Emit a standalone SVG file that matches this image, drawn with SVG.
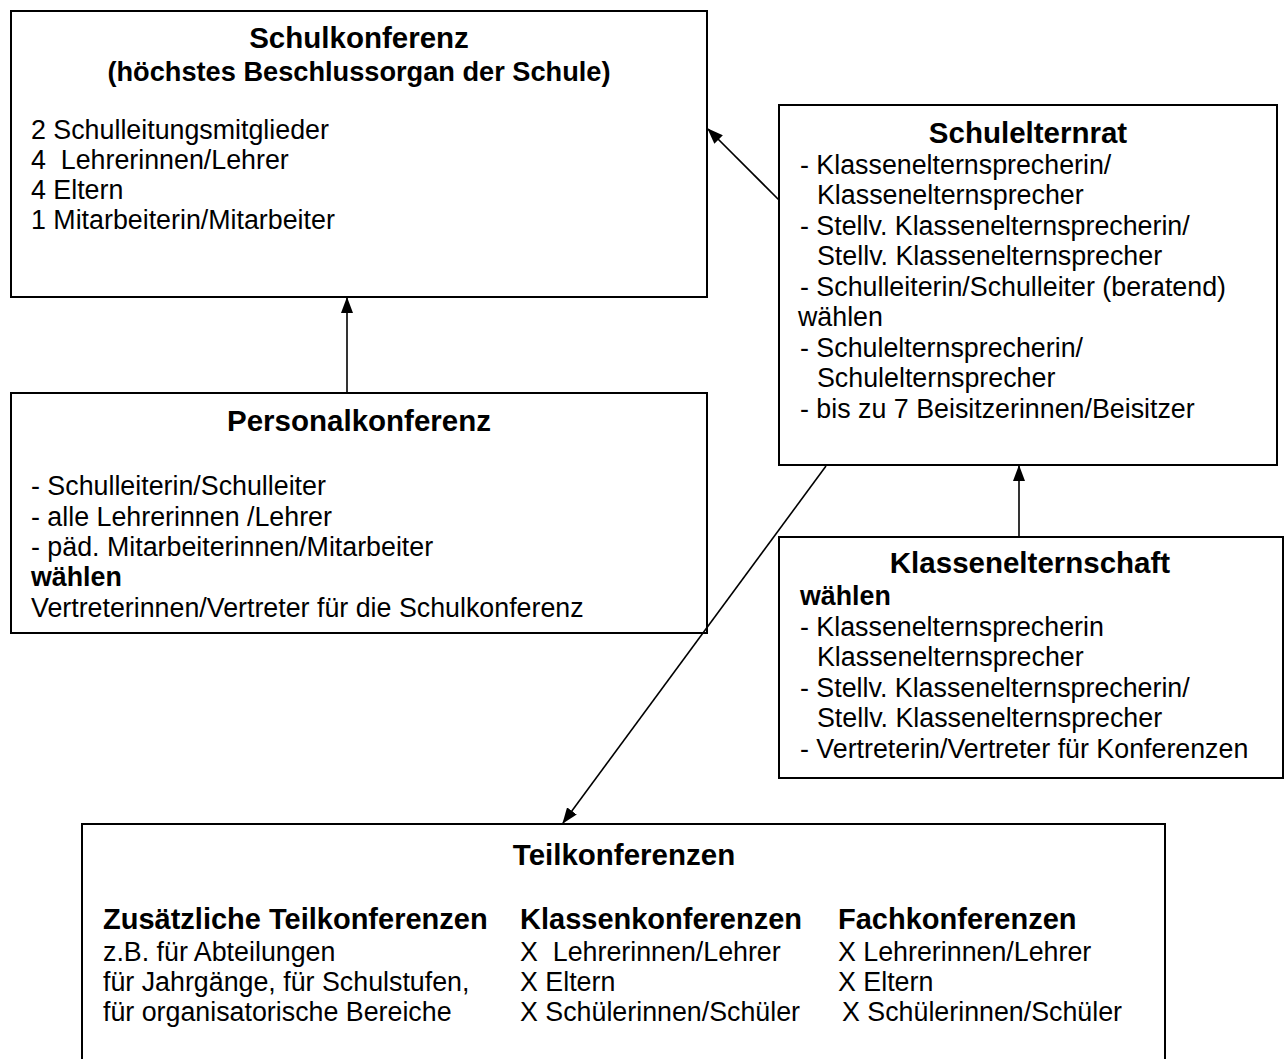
<svg xmlns="http://www.w3.org/2000/svg" width="1285" height="1059" viewBox="0 0 1285 1059">
<style>
.box{fill:#fff;stroke:#000;stroke-width:2}
text{font-family:"Liberation Sans",Arial,sans-serif;fill:#000}
.t{font-size:29.5px;font-weight:bold;text-anchor:middle}
.st{font-size:27.2px;font-weight:bold;text-anchor:middle}
.r{font-size:26.8px}
.b{font-size:26.8px;font-weight:bold}
.h{font-size:29px;font-weight:bold}
.c{stroke:#000;stroke-width:1.6;fill:none;marker-end:url(#ah)}
</style>
<defs>
<marker id="ah" markerWidth="16" markerHeight="12" refX="15" refY="6" orient="auto" markerUnits="userSpaceOnUse">
<path d="M0,0 L16,6 L0,12 Z" fill="#000"/>
</marker>
</defs>
<rect width="1285" height="1059" fill="#fff"/>
<g id="schulkonferenz">
<rect class="box" x="11" y="11" width="696" height="286"/>
<text class="t" x="359" y="48">Schulkonferenz</text>
<text class="st" x="359" y="81">(höchstes Beschlussorgan der Schule)</text>
<text class="r" x="31" y="139">2 Schulleitungsmitglieder</text>
<text class="r" x="31" y="169" xml:space="preserve">4  Lehrerinnen/Lehrer</text>
<text class="r" x="31" y="199">4 Eltern</text>
<text class="r" x="31" y="229">1 Mitarbeiterin/Mitarbeiter</text>
</g>
<g id="personalkonferenz">
<rect class="box" x="11" y="393" width="696" height="240"/>
<text class="t" x="359" y="431">Personalkonferenz</text>
<text class="r" x="31" y="495">- Schulleiterin/Schulleiter</text>
<text class="r" x="31" y="526">- alle Lehrerinnen /Lehrer</text>
<text class="r" x="31" y="556">- päd. Mitarbeiterinnen/Mitarbeiter</text>
<text class="b" x="31" y="586">wählen</text>
<text class="r" x="31" y="617">Vertreterinnen/Vertreter für die Schulkonferenz</text>
</g>
<g id="schulelternrat">
<rect class="box" x="779" y="105" width="498" height="360"/>
<text class="t" x="1028" y="143">Schulelternrat</text>
<text class="r" x="800" y="174">- Klassenelternsprecherin/</text>
<text class="r" x="817" y="204">Klassenelternsprecher</text>
<text class="r" x="800" y="235">- Stellv. Klassenelternsprecherin/</text>
<text class="r" x="817" y="265">Stellv. Klassenelternsprecher</text>
<text class="r" x="800" y="296">- Schulleiterin/Schulleiter (beratend)</text>
<text class="r" x="798" y="326">wählen</text>
<text class="r" x="800" y="357">- Schulelternsprecherin/</text>
<text class="r" x="817" y="387">Schulelternsprecher</text>
<text class="r" x="800" y="418">- bis zu 7 Beisitzerinnen/Beisitzer</text>
</g>
<g id="klassenelternschaft">
<rect class="box" x="779" y="537" width="504" height="241"/>
<text class="t" x="1030" y="573">Klassenelternschaft</text>
<text class="b" x="800" y="605">wählen</text>
<text class="r" x="800" y="636">- Klassenelternsprecherin</text>
<text class="r" x="817" y="666">Klassenelternsprecher</text>
<text class="r" x="800" y="697">- Stellv. Klassenelternsprecherin/</text>
<text class="r" x="817" y="727">Stellv. Klassenelternsprecher</text>
<text class="r" x="800" y="758">- Vertreterin/Vertreter für Konferenzen</text>
</g>
<g id="teilkonferenzen">
<rect class="box" x="82" y="824" width="1083" height="250"/>
<text class="t" x="624" y="865">Teilkonferenzen</text>
<text class="h" x="103" y="929">Zusätzliche Teilkonferenzen</text>
<text class="h" x="520" y="929">Klassenkonferenzen</text>
<text class="h" x="838" y="929">Fachkonferenzen</text>
<text class="r" x="103" y="961">z.B. für Abteilungen</text>
<text class="r" x="103" y="991">für Jahrgänge, für Schulstufen,</text>
<text class="r" x="103" y="1021">für organisatorische Bereiche</text>
<text class="r" x="520" y="961" xml:space="preserve">X  Lehrerinnen/Lehrer</text>
<text class="r" x="520" y="991">X Eltern</text>
<text class="r" x="520" y="1021">X Schülerinnen/Schüler</text>
<text class="r" x="838" y="961">X Lehrerinnen/Lehrer</text>
<text class="r" x="838" y="991">X Eltern</text>
<text class="r" x="842" y="1021">X Schülerinnen/Schüler</text>
</g>
<g id="connectors">
<line class="c" x1="347" y1="393" x2="347" y2="298"/>
<line class="c" x1="779" y1="200" x2="708" y2="129"/>
<line class="c" x1="1019" y1="537" x2="1019" y2="466"/>
<line class="c" x1="826" y1="466" x2="563" y2="823"/>
</g>
</svg>
